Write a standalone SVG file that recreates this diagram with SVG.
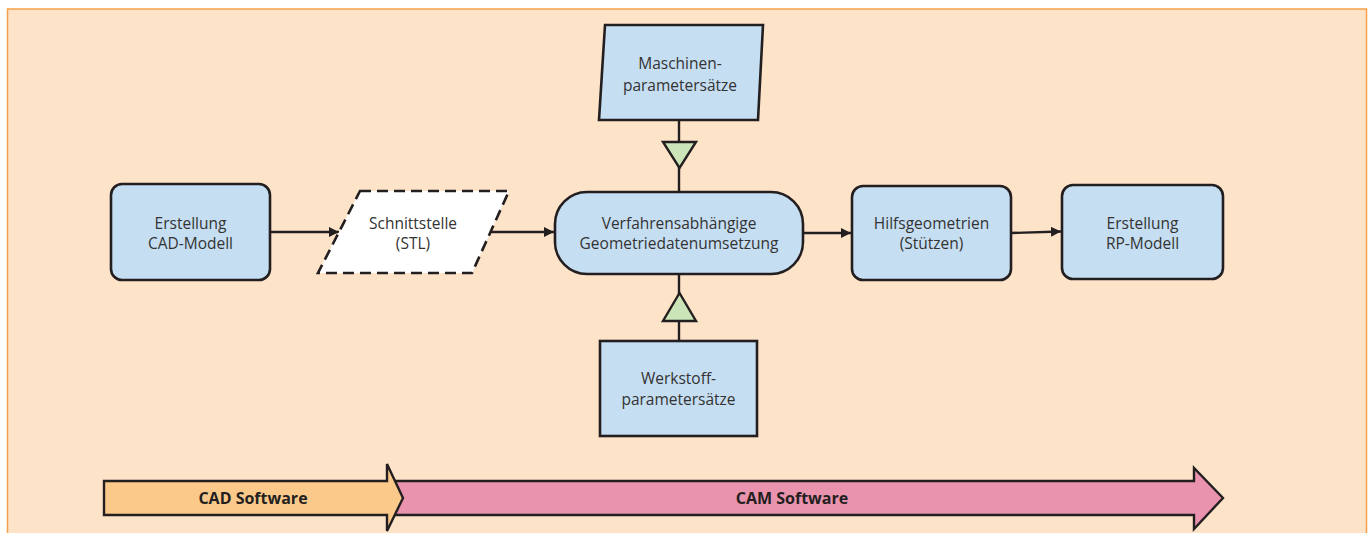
<svg xmlns="http://www.w3.org/2000/svg" width="1372" height="533" viewBox="0 0 1372 533">
<defs>
<style>
.box{fill:#c6def2;stroke:#231f20;stroke-width:2.6}
.t{font-family:"Open Sans","Noto Sans",sans-serif;font-size:15.5px;fill:#333;text-anchor:middle}
.tb{font-family:"Open Sans","Noto Sans",sans-serif;font-size:16px;font-weight:bold;fill:#231f20;text-anchor:middle}
.ln{stroke:#231f20;stroke-width:2.4;fill:none}
.tri{fill:#cce5b8;stroke:#231f20;stroke-width:2.4;stroke-linejoin:miter}
</style>
<marker id="ah" markerWidth="10" markerHeight="10" viewBox="0 0 10 10" refX="10" refY="5" orient="auto" markerUnits="userSpaceOnUse">
<path d="M0,0 L10,5 L0,10 Z" fill="#231f20"/>
</marker>
</defs>
<rect x="7.5" y="9" width="1359" height="530" fill="#fde3c8" stroke="#f7a04a" stroke-width="1.5"/>
<g id="connectors">
<line class="ln" x1="270" y1="232" x2="339" y2="232" marker-end="url(#ah)"/>
<line class="ln" x1="488" y1="232" x2="554" y2="232" marker-end="url(#ah)"/>
<line class="ln" x1="803" y1="233" x2="851" y2="233" marker-end="url(#ah)"/>
<line class="ln" x1="1011" y1="233" x2="1061" y2="231.5" marker-end="url(#ah)"/>
<line class="ln" x1="679" y1="120" x2="679" y2="192"/>
<polygon class="tri" points="663,142 696,142 679.5,168"/>
<line class="ln" x1="679" y1="274" x2="679" y2="341"/>
<polygon class="tri" points="679.5,293 696,321 663,321"/>
</g>
<g id="n-cad">
<rect class="box" x="111" y="184" width="159" height="96" rx="11"/>
<text class="t" x="190.5" y="229">Erstellung</text>
<text class="t" x="190.5" y="249">CAD-Modell</text>
</g>
<g id="n-stl">
<polygon points="360,191 509,191 472,273 318,273" fill="#ffffff" stroke="#231f20" stroke-width="2.6" stroke-dasharray="11,6"/>
<text class="t" x="413" y="229">Schnittstelle</text>
<text class="t" x="413" y="249">(STL)</text>
</g>
<g id="n-verf">
<rect class="box" x="555" y="192" width="248" height="82" rx="32"/>
<text class="t" x="679" y="229">Verfahrensabhängige</text>
<text class="t" x="679" y="249">Geometriedatenumsetzung</text>
</g>
<g id="n-masch">
<polygon class="box" points="605,25 763,25 758,120 599,120"/>
<text class="t" x="680" y="69">Maschinen-</text>
<text class="t" x="680" y="91">parametersätze</text>
</g>
<g id="n-werk">
<rect class="box" x="600" y="341" width="157" height="95"/>
<text class="t" x="678.5" y="384">Werkstoff-</text>
<text class="t" x="678.5" y="405">parametersätze</text>
</g>
<g id="n-hilf">
<rect class="box" x="852" y="186" width="159" height="94" rx="11"/>
<text class="t" x="931.5" y="229">Hilfsgeometrien</text>
<text class="t" x="931.5" y="249">(Stützen)</text>
</g>
<g id="n-rp">
<rect class="box" x="1062" y="185" width="161" height="94" rx="11"/>
<text class="t" x="1142.5" y="229">Erstellung</text>
<text class="t" x="1142.5" y="249">RP-Modell</text>
</g>
<g id="n-cam">
<polygon points="395,481 1194,481 1194,468 1223,498 1194,529 1194,515 395,515" fill="#ea93ae" stroke="#231f20" stroke-width="2.4" stroke-linejoin="miter"/>
<text class="tb" x="792" y="504">CAM Software</text>
</g>
<g id="n-cadsw">
<polygon points="104,481 387,481 387,464 403,498 387,531 387,515 104,515" fill="#fbc98a" stroke="#231f20" stroke-width="2.4" stroke-linejoin="miter"/>
<text class="tb" x="253" y="504">CAD Software</text>
</g>
</svg>
